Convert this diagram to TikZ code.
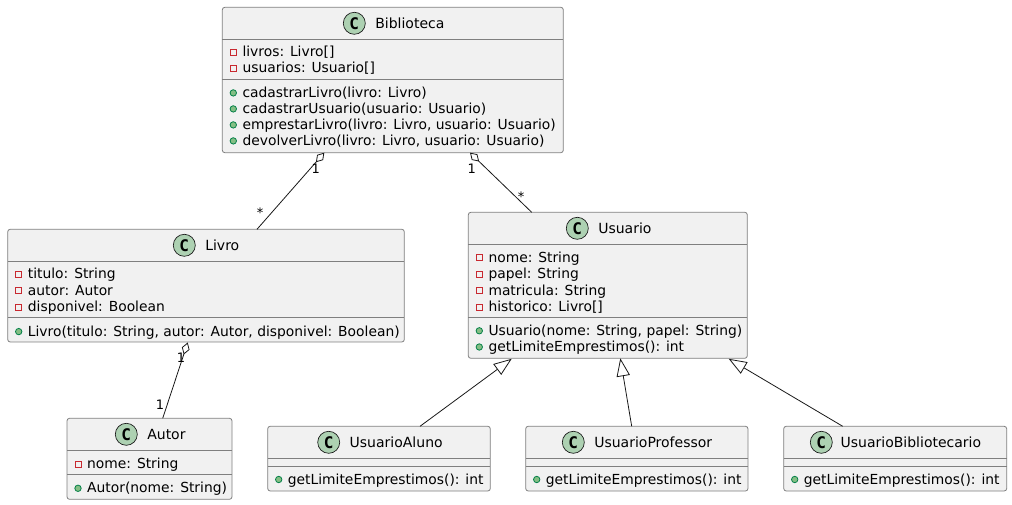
\documentclass[tikz,border=0pt]{standalone}
\usepackage{fontspec}
\setmainfont{DejaVu Sans}
\newfontfamily\monob{DejaVu Sans Mono}[BoldFont={DejaVu Sans Mono Bold}]
\usetikzlibrary{calc,arrows.meta}
\definecolor{boxfill}{HTML}{F1F1F1}
\definecolor{boxline}{HTML}{7F7F7F}
\definecolor{edgeline}{HTML}{181818}
\definecolor{spotfill}{HTML}{ADD1B2}
\definecolor{privred}{HTML}{C82930}
\definecolor{pubfill}{HTML}{84BE84}
\definecolor{publine}{HTML}{038048}
\tikzset{
  classbox/.style={draw=boxline,fill=boxfill,line width=0.6pt,rounded corners=1.9pt,outer sep=0pt,inner sep=0pt},
  sepline/.style={draw=boxline,line width=0.6pt},
  spot/.style={circle,draw=edgeline,line width=0.5pt,fill=spotfill,minimum size=16.5pt,inner sep=0pt,outer sep=0pt,font=\monob\bfseries\fontsize{12pt}{12pt}\selectfont},
  titletext/.style={anchor=base west,inner sep=0pt,outer sep=0pt,font=\fontsize{10.5pt}{12pt}\selectfont},
  membertext/.style={anchor=base west,inner sep=0pt,outer sep=0pt,font=\fontsize{10.39pt}{12pt}\selectfont},
  privicon/.style={rectangle,draw=privred,line width=0.6pt,fill=none,minimum size=4.6pt,inner sep=0pt,outer sep=0pt},
  pubicon/.style={circle,draw=publine,line width=0.6pt,fill=pubfill,minimum size=4.8pt,inner sep=0pt,outer sep=0pt},
  edge/.style={draw=edgeline,line width=0.6pt},
  aggregation/.style={edge,{Diamond[open,fill=white,length=9.5pt,width=6pt,line width=0.6pt]}-},
  generalization/.style={edge,{Triangle[open,fill=white,length=13.5pt,width=10pt,line width=0.6pt]}-},
  multiplicity/.style={inner sep=0pt,outer sep=0pt,font=\fontsize{9.75pt}{11pt}\selectfont},
}
\newcommand{\titleoff}{21}
\newcommand{\umlclass}[9]{%
  \node[classbox,minimum width={(#4-#2)*0.75pt},minimum height={(#5-#3)*0.75pt}] (#1) at ({(#2+#4)/2},{(#3+#5)/2}) {};
  \draw[sepline] ($(#1.north west)+(0,#6)$) -- ($(#1.north east)+(0,#6)$);
  \draw[sepline] ($(#1.north west)+(0,#7)$) -- ($(#1.north east)+(0,#7)$);
  \node[spot] (#1spot) at ($(#1.north west)+(#8,16)$) {C};
  \node[titletext] (#1title) at ($(#1spot.center)+(\titleoff,5.2)$) {#9};
}
\newcommand{\priv}[4]{%
  \node[privicon] (#2i) at ($(#1.north west)+(11,#3)$) {};
  \node[membertext] (#2) at ($(#1.north west)+(20.2,#3+4.5)$) {#4};
}
\newcommand{\pub}[4]{%
  \node[pubicon] (#2i) at ($(#1.north west)+(11,#3)$) {};
  \node[membertext] (#2) at ($(#1.north west)+(20.2,#3+4.5)$) {#4};
}
\begin{document}
\begin{tikzpicture}[x=0.75pt,y=-0.75pt]
\useasboundingbox (0,0) rectangle (1012,505);
% Biblioteca
\umlclass{bib}{222.3}{7.3}{563.3}{152.7}{32}{72}{132}{Biblioteca}
\priv{bib}{ba}{45}{livros: Livro[]}
\priv{bib}{bb}{61}{usuarios: Usuario[]}
\pub{bib}{bc}{85.6}{cadastrarLivro(livro: Livro)}
\pub{bib}{bd}{101.6}{cadastrarUsuario(usuario: Usuario)}
\pub{bib}{be}{117.6}{emprestarLivro(livro: Livro, usuario: Usuario)}
\pub{bib}{bf}{133.6}{devolverLivro(livro: Livro, usuario: Usuario)}
% Livro
\umlclass{liv}{7.7}{229.3}{404.3}{342}{32}{88}{176.6}{Livro}
\priv{liv}{la}{45}{titulo: String}
\priv{liv}{lb}{61.5}{autor: Autor}
\priv{liv}{lc}{78}{disponivel: Boolean}
\pub{liv}{ld}{102.3}{Livro(titulo: String, autor: Autor, disponivel: Boolean)}
% Autor
\umlclass{aut}{67}{418.3}{232}{499.3}{32}{56}{59.3}{Autor}
\priv{aut}{aa}{46}{nome: String}
\pub{aut}{ab}{70}{Autor(nome: String)}
% Usuario
\umlclass{usu}{468.3}{212.3}{747.3}{358.3}{32}{105.4}{109}{Usuario}
\priv{usu}{ua}{45.5}{nome: String}
\priv{usu}{ub}{62}{papel: String}
\priv{usu}{uc}{78.3}{matricula: String}
\priv{usu}{ud}{95}{historico: Livro[]}
\pub{usu}{ue}{118.5}{Usuario(nome: String, papel: String)}
\pub{usu}{uf}{134.7}{getLimiteEmprestimos(): int}
% Subclasses
\umlclass{alu}{267.7}{426.3}{490.3}{491}{32}{40}{61}{UsuarioAluno}
\pub{alu}{alm}{53.2}{getLimiteEmprestimos(): int}
\umlclass{pro}{525.7}{426.3}{748}{491}{32}{40}{47.6}{UsuarioProfessor}
\pub{pro}{prm}{53.2}{getLimiteEmprestimos(): int}
\renewcommand{\titleoff}{19.3}
\umlclass{bbl}{783.7}{426.3}{1006.7}{491}{32}{40}{37.6}{UsuarioBibliotecario}
\pub{bbl}{blm}{53.2}{getLimiteEmprestimos(): int}
% Connectors
\draw[aggregation] ($(bib.south west)+(102,0)$) -- ($(liv.north west)+(249.3,0)$);
\draw[aggregation] ($(bib.south west)+(247.7,0)$) -- ($(usu.north west)+(63.4,0)$);
\draw[aggregation] ($(liv.south west)+(180,0.5)$) -- ($(aut.north west)+(95.7,0)$);
\draw[generalization] ($(usu.south west)+(43.4,0.5)$) -- ($(alu.north west)+(152.3,0)$);
\draw[generalization] ($(usu.south west)+(152,0)$) -- ($(pro.north west)+(106,0)$);
\draw[generalization] ($(usu.south west)+(260.4,0.5)$) -- ($(bbl.north west)+(59,0)$);
% Multiplicities
\node[multiplicity] (m1) at (315.7,169) {1};
\node[multiplicity] (m2) at (260,212.5) {*};
\node[multiplicity] (m3) at (471.7,169) {1};
\node[multiplicity] (m4) at (521,196.5) {*};
\node[multiplicity] (m5) at (181,358) {1};
\node[multiplicity] (m6) at (160,404.5) {1};
\end{tikzpicture}
\end{document}
